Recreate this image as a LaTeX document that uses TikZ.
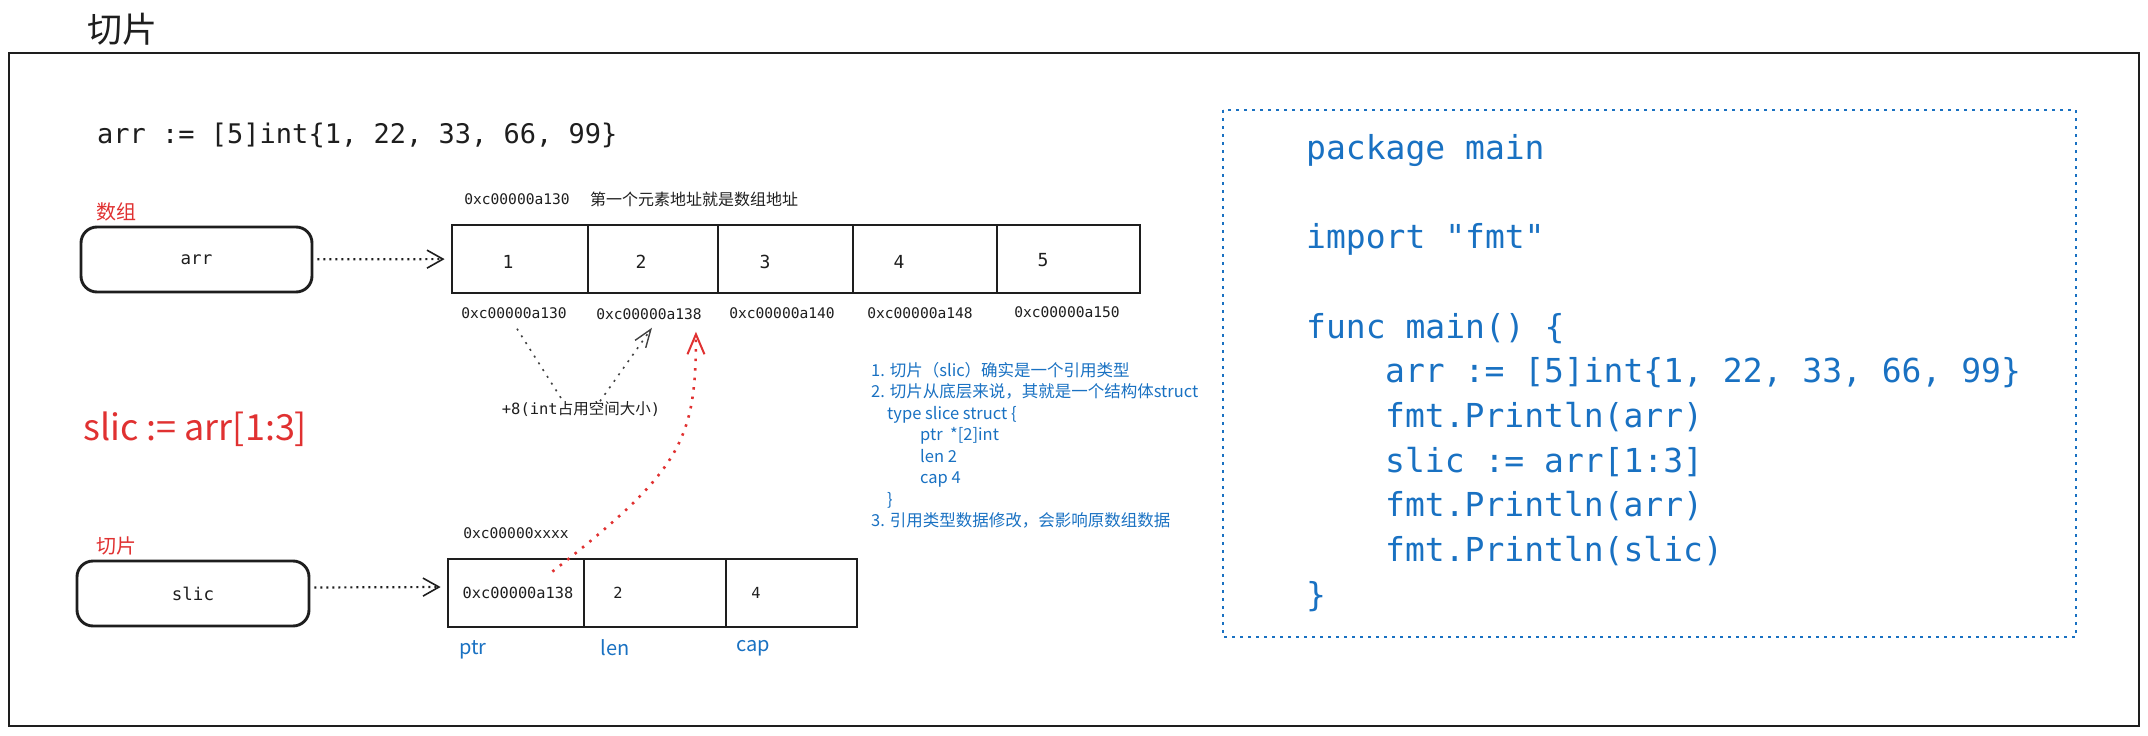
\documentclass[tikz,border=0pt]{standalone}
\usepackage{fontspec}
\setmainfont{Noto Sans CJK SC}
\setmonofont{DejaVu Sans Mono}
\usetikzlibrary{arrows.meta,positioning,calc}
\definecolor{ink}{HTML}{1E1E1E}
\definecolor{exred}{HTML}{E03131}
\definecolor{exblue}{HTML}{1971C2}
\tikzset{
  outline/.style   = {draw=ink, line width=2.6pt},
  cell/.style      = {draw=ink, line width=2.8pt, minimum height=68pt, inner sep=0pt},
  varbox/.style    = {draw=ink, line width=2.9pt, rounded corners=16pt,
                      minimum width=231pt, minimum height=65pt, text=ink,
                      font=\ttfamily\fontsize{17.5}{20}\selectfont},
  addr/.style      = {text=ink, inner sep=0pt, font=\ttfamily\fontsize{14.6}{17}\selectfont},
  sval/.style      = {text=ink, inner sep=0pt, font=\ttfamily\fontsize{15.3}{18}\selectfont},
  num/.style       = {text=ink, inner sep=0pt, font=\ttfamily\fontsize{18}{21}\selectfont},
  redlab/.style    = {text=exred, inner sep=0pt, font=\fontsize{20}{24}\selectfont},
  fieldlab/.style  = {text=exblue, inner sep=0pt, font=\fontsize{20}{24}\selectfont},
  notes/.style     = {text=exblue, inner sep=0pt, align=left, font=\fontsize{16.5}{21.5}\selectfont},
  gocode/.style    = {text=exblue, inner sep=0pt, align=left,
                      font=\ttfamily\fontsize{33}{44.7}\selectfont},
  codeframe/.style = {draw=exblue, line width=2.4pt, dash pattern=on 3pt off 5pt},
  points/.style    = {ink, line width=2.2pt, dash pattern=on 2pt off 4pt,
                      shorten <=4pt, shorten >=6pt,
                      -{Straight Barb[length=16pt,width=18pt,line width=1.6pt]}},
  hint/.style      = {ink!85, line width=1.6pt, dash pattern=on 2pt off 6pt},
  refers/.style    = {exred, line width=2.6pt, dash pattern=on 2.5pt off 7pt,
                      -{Straight Barb[length=20pt,width=17pt,line width=2pt]}},
}

\begin{document}
\begin{tikzpicture}[x=1pt, y=-1pt]
\useasboundingbox (0,0) rectangle (2148,736);
\draw[outline] (9,53) rectangle (2139,726);
\node[text=ink, font=\fontsize{35}{40}\selectfont] (title) at (122,29) {切片};

% the array
\node[text=ink, anchor=west, inner sep=0pt, font=\ttfamily\fontsize{27}{32}\selectfont] (arrdef) at (97,135) {arr := [5]int\{1, 22, 33, 66, 99\}};
\node[redlab] (arrtag) at (116,212) {数组};
\node[varbox] (arrbox) at (196.5,259.5) {arr};
\node[addr] (firstaddr) at (517,199) {0xc00000a130};
\node[text=ink, inner sep=0pt, font=\fontsize{16}{19}\selectfont] (firstnote) at (694,199) {第一个元素地址就是数组地址};
\node[cell, minimum width=136pt] (a1) at (520,259) {};
\node[cell, minimum width=130pt] (a2) at (653,259) {};
\node[cell, minimum width=135pt] (a3) at (785.5,259) {};
\node[cell, minimum width=144pt] (a4) at (925,259) {};
\node[cell, minimum width=143pt] (a5) at (1068.5,259) {};
\node[num] (v1) at (508,262) {1};
\node[num] (v2) at (641,262) {2};
\node[num] (v3) at (765,262) {3};
\node[num] (v4) at (899,262) {4};
\node[num] (v5) at (1043,260) {5};
\node[addr] (b1) at (514,313) {0xc00000a130};
\node[addr] (b2) at (649,314) {0xc00000a138};
\node[addr] (b3) at (782,313) {0xc00000a140};
\node[addr] (b4) at (920,313) {0xc00000a148};
\node[addr] (b5) at (1067,312) {0xc00000a150};
\node[text=ink, inner sep=0pt, font=\fontsize{15.5}{18}\selectfont] (plus) at (581,409) {{\ttfamily +8(int}占用空间大小{\ttfamily )}};
\draw[points] (arrbox) -- (a1);
\draw[hint] ([xshift=3pt,yshift=-10pt]b1.south) -- ([xshift=-18pt]plus.north);
\draw[hint, -{Straight Barb[length=18pt,width=13pt,line width=1.4pt]}] ([xshift=19pt]plus.north) -- ([xshift=3pt,yshift=-8pt]b2.south);

% the slice
\node[text=exred, anchor=west, inner sep=0pt, font=\fontsize{36}{43}\selectfont] (slicdef) at (83,429) {slic := arr[1:3]};
\node[redlab] (slictag) at (116,546) {切片};
\node[varbox, minimum width=232pt] (slicbox) at (193,593.5) {slic};
\node[addr] (slicaddr) at (516,533) {0xc00000xxxx};
\node[cell, minimum width=136pt] (s1) at (516,593) {};
\node[cell, minimum width=142pt] (s2) at (655,593) {};
\node[cell, minimum width=131pt] (s3) at (791.5,593) {};
\node[sval] (sv1) at (518,593) {0xc00000a138};
\node[sval] (sv2) at (618,593) {2};
\node[sval] (sv3) at (756,593) {4};
\node[fieldlab] (ptrlab) at (473,650) {ptr};
\node[fieldlab] (lenlab) at (615,648) {len};
\node[fieldlab] (caplab) at (753,648) {cap};
\draw[points] ([yshift=6pt]slicbox.east) -- ([yshift=6pt]s1.west);
\draw[refers] ([xshift=-33pt,yshift=-14pt]s1.north east) .. controls (682,470) and (696,440) .. ([xshift=-6pt,yshift=-12pt]b2.south east);

\node[notes, anchor=north west] (slicenote) at (871,362) {1. 切片（slic）确实是一个引用类型\\
2. 切片从底层来说，其就是一个结构体struct\\
\hspace*{16pt}type slice struct \{\\
\hspace*{49pt}ptr\ \ *[2]int\\
\hspace*{49pt}len 2\\
\hspace*{49pt}cap 4\\
\hspace*{16pt}\}\\
3. 引用类型数据修改，会影响原数组数据};

% the go program
\draw[codeframe] (1223,110) rectangle (2076,637);
\node[gocode, anchor=north west] (program) at (1306,134) {package main\\[44.7pt]
import "fmt"\\[44.7pt]
func main() \{\\
\hspace*{79pt}arr := [5]int\{1, 22, 33, 66, 99\}\\
\hspace*{79pt}fmt.Println(arr)\\
\hspace*{79pt}slic := arr[1:3]\\
\hspace*{79pt}fmt.Println(arr)\\
\hspace*{79pt}fmt.Println(slic)\\
\}};
\end{tikzpicture}
\end{document}
